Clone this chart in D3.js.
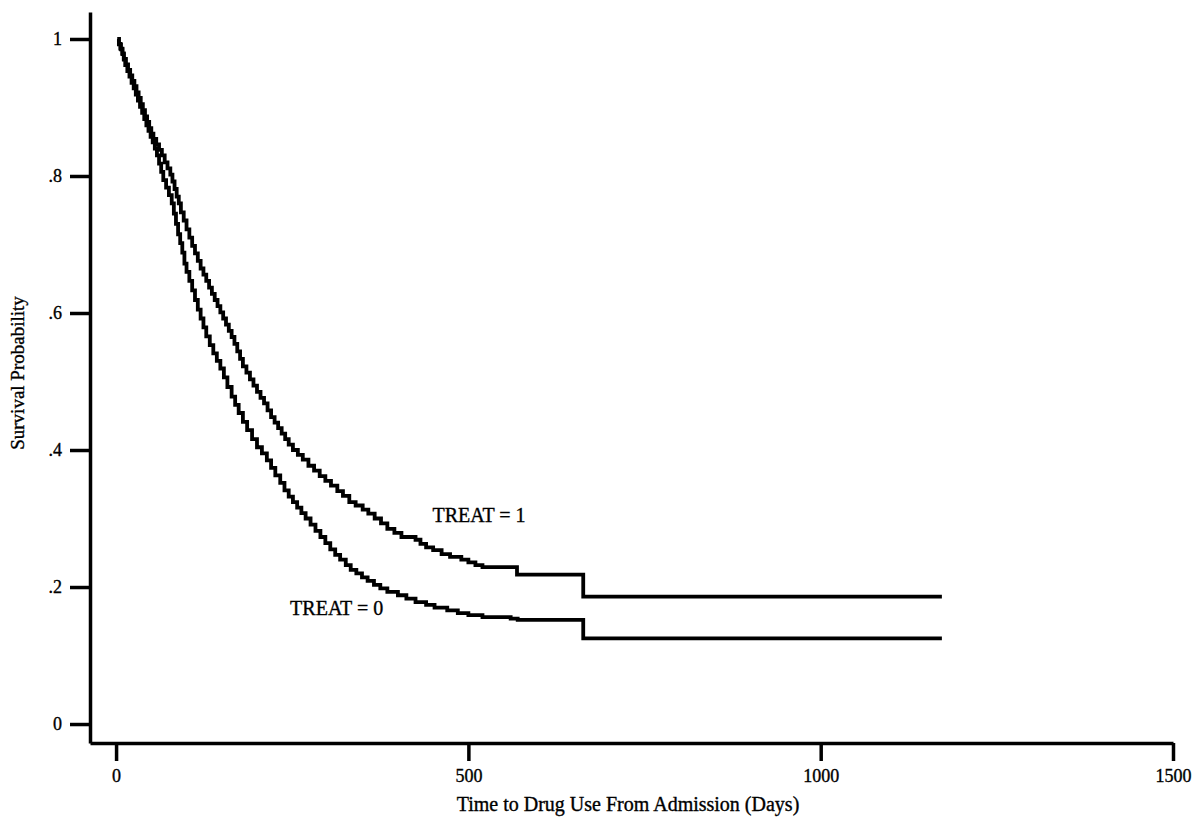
<!DOCTYPE html>
<html>
<head>
<meta charset="utf-8">
<script src="https://cdn.jsdelivr.net/npm/d3@7"></script>
<style>
  html, body { margin: 0; padding: 0; background: #fff; }
  svg { display: block; }
  text { font-family: "Liberation Serif", "DejaVu Serif", serif; fill: #000; stroke: #000; stroke-width: 0.35px; }
</style>
</head>
<body>
<svg id="chart" width="1195" height="818"></svg>
<script>
// Kaplan-Meier estimates: [days, survival probability after the step]
const treat0 = [
  [2,1.000],[4,0.992],[7,0.985],[9,0.978],[11,0.970],[13,0.962],[16,0.953],[19,0.945],
  [22,0.936],[25,0.928],[28,0.919],[31,0.910],[34,0.901],[37,0.892],[40,0.883],[43,0.874],
  [46,0.866],[49,0.857],[52,0.849],[55,0.840],[58,0.830],[61,0.818],[64,0.806],[67,0.794],
  [71,0.783],[75,0.772],[79,0.760],[82,0.745],[85,0.730],[88,0.715],[91,0.702],[94,0.688],
  [97,0.672],[100,0.660],[104,0.647],[108,0.633],[112,0.619],[116,0.605],[120,0.592],[124,0.579],
  [128,0.566],[133,0.553],[138,0.541],[143,0.530],[148,0.519],[153,0.506],[158,0.492],[164,0.478],
  [169,0.466],[174,0.454],[180,0.441],[186,0.429],[193,0.416],[200,0.404],[207,0.395],[214,0.385],
  [220,0.374],[226,0.363],[233,0.352],[239,0.341],[245,0.332],[251,0.324],[257,0.316],[263,0.308],
  [269,0.300],[276,0.291],[283,0.282],[290,0.273],[297,0.264],[304,0.255],[311,0.247],[318,0.240],
  [326,0.232],[333,0.225],[341,0.220],[349,0.214],[357,0.209],[366,0.203],[375,0.198],[385,0.193],
  [400,0.188],[412,0.183],[425,0.178],[440,0.174],[452,0.170],[470,0.166],[485,0.162],[500,0.159],
  [520,0.156],[560,0.154],[570,0.152],[663,0.125],[1172,0.125]
];

const treat1 = [
  [2,1.000],[4,0.993],[6,0.986],[9,0.979],[11,0.971],[14,0.963],[17,0.955],[20,0.947],
  [23,0.939],[26,0.931],[29,0.922],[32,0.914],[35,0.905],[38,0.896],[41,0.887],[44,0.879],
  [47,0.870],[50,0.862],[53,0.854],[57,0.846],[61,0.838],[65,0.830],[69,0.820],[73,0.811],
  [77,0.802],[80,0.792],[83,0.781],[86,0.770],[89,0.760],[92,0.747],[96,0.735],[100,0.722],
  [104,0.710],[108,0.698],[112,0.687],[116,0.676],[120,0.665],[124,0.656],[128,0.647],[132,0.637],
  [136,0.628],[140,0.619],[144,0.610],[148,0.601],[152,0.592],[156,0.583],[160,0.574],[164,0.565],
  [168,0.555],[172,0.544],[176,0.533],[180,0.522],[185,0.513],[190,0.503],[195,0.494],[200,0.485],
  [205,0.476],[210,0.468],[215,0.458],[220,0.448],[225,0.440],[230,0.432],[235,0.424],[240,0.416],
  [245,0.408],[251,0.400],[258,0.393],[265,0.386],[273,0.377],[281,0.370],[289,0.362],[297,0.355],
  [305,0.348],[314,0.340],[322,0.333],[331,0.324],[340,0.319],[350,0.313],[358,0.307],[367,0.300],
  [376,0.293],[385,0.285],[395,0.279],[405,0.273],[425,0.269],[432,0.263],[440,0.258],[450,0.254],
  [462,0.248],[474,0.244],[490,0.240],[500,0.236],[510,0.232],[520,0.229],[569,0.218],[663,0.186],
  [1172,0.186]
];

const xTicks = [0, 500, 1000, 1500];
const xTickLabels = ["0", "500", "1000", "1500"];
const yTicks = [0, 0.2, 0.4, 0.6, 0.8, 1];
const yTickLabels = ["0", ".2", ".4", ".6", ".8", "1"];

const seriesLabels = [
  { name: "TREAT = 1", day: 449, surv: 0.295 },
  { name: "TREAT = 0", day: 247, surv: 0.159 }
];

const svg = d3.select("#chart");

// axis extents reach a little past the data range on both ends
const x = d3.scaleLinear().domain([-37, 1500]).range([90, 1173]);
const y = d3.scaleLinear().domain([-0.0277, 1.0394]).range([743, 12]);

const xAxis = svg.append("g")
  .attr("transform", `translate(0,${y(-0.0277)})`)
  .call(d3.axisBottom(x)
    .tickValues(xTicks)
    .tickFormat((d, i) => xTickLabels[i])
    .tickSize(18).tickSizeOuter(0).tickPadding(8));

const yAxis = svg.append("g")
  .attr("transform", `translate(${x(-37)},0)`)
  .call(d3.axisLeft(y)
    .tickValues(yTicks)
    .tickFormat((d, i) => yTickLabels[i])
    .tickSize(20).tickSizeOuter(0).tickPadding(8));

[xAxis, yAxis].forEach(g => {
  g.select(".domain").attr("stroke", "#000").attr("stroke-width", 3.5);
  g.selectAll(".tick line").attr("stroke", "#000").attr("stroke-width", 3.5);
  g.selectAll(".tick text")
    .attr("fill", "#000")
    .style("font-family", '"Liberation Serif", serif')
    .style("font-size", "18px");
});

// survival curves drawn as step functions
const line = d3.line()
  .x(d => x(d[0]))
  .y(d => y(d[1]))
  .curve(d3.curveStepAfter);

[treat0, treat1].forEach(series => {
  svg.append("path")
    .datum(series)
    .attr("fill", "none")
    .attr("stroke", "#000")
    .attr("stroke-width", 3.8)
    .attr("stroke-linejoin", "miter")
    .attr("d", line);
});

svg.selectAll("text.series-label")
  .data(seriesLabels)
  .join("text")
  .attr("class", "series-label")
  .attr("x", d => x(d.day))
  .attr("y", d => y(d.surv))
  .style("font-size", "20px")
  .text(d => d.name);

svg.append("text")
  .attr("x", 628)
  .attr("y", 811)
  .attr("text-anchor", "middle")
  .style("font-size", "20px")
  .text("Time to Drug Use From Admission (Days)");

svg.append("text")
  .attr("transform", "translate(24,373) rotate(-90)")
  .attr("text-anchor", "middle")
  .style("font-size", "19px")
  .text("Survival Probability");
</script>
</body>
</html>
